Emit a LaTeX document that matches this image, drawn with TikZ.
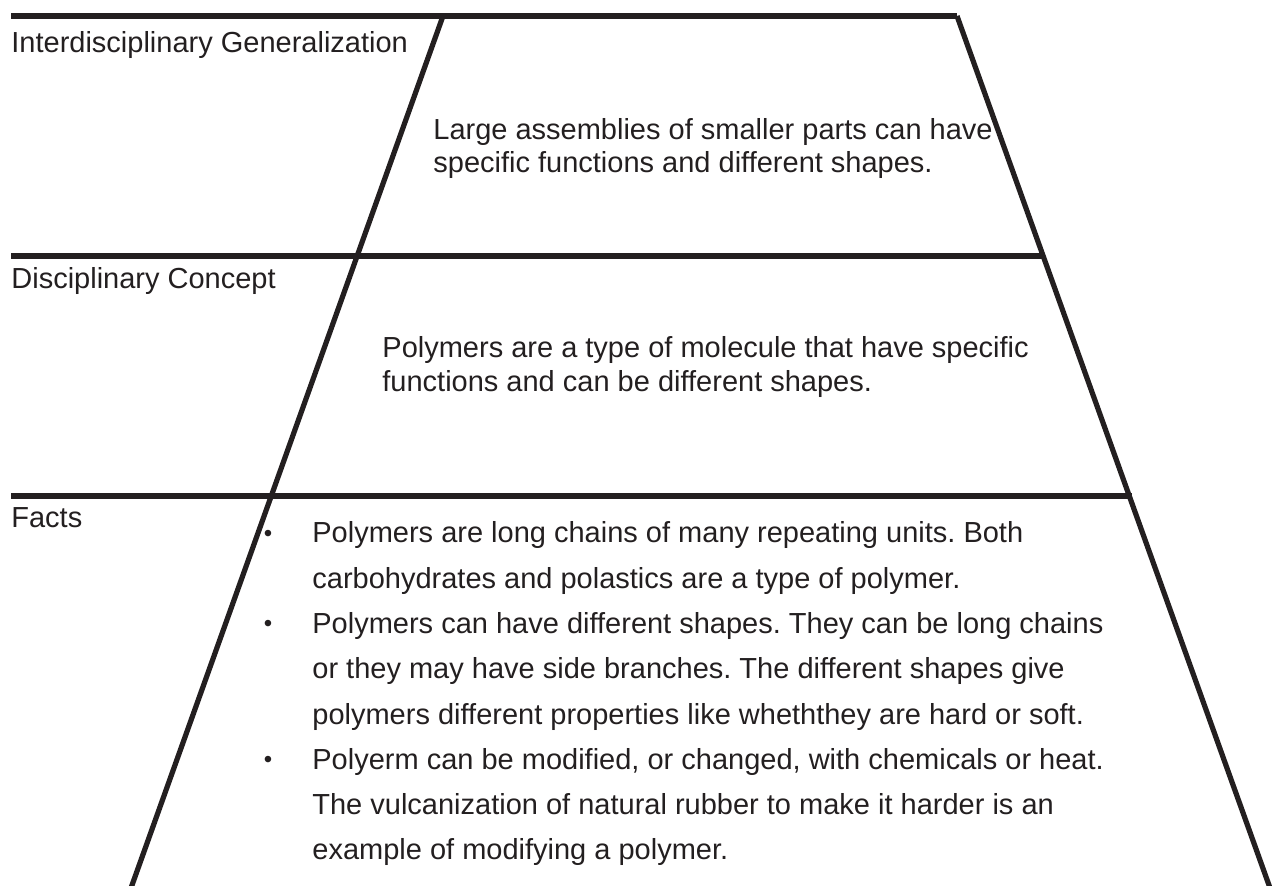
\documentclass[tikz,border=0pt]{standalone}
\usepackage{fontspec}
\setmainfont{Liberation Sans}
\definecolor{ink}{HTML}{231F20}
\frenchspacing
\begin{document}
\begin{tikzpicture}[x=0.5pt,y=-0.5pt,
  rule/.style={line width=2.6pt, draw=ink},
  lbl/.style={anchor=base west, inner sep=0pt, text=ink, font=\fontsize{14.5}{17}\selectfont},
  bul/.style={anchor=base, inner sep=0pt, text=ink, font=\fontsize{12}{14}\selectfont},
]
\useasboundingbox (0,0) rectangle (1272,886);
% frame coordinates
\coordinate (TL) at (11,16);
\coordinate (TR) at (957,16);
\coordinate (LT) at (443,16);
\coordinate (LB) at (131,888);
\coordinate (RB) at (1270,888);
\coordinate (ML) at (11,256);
\coordinate (MR) at (1044,256);
\coordinate (BL) at (11,496);
\coordinate (BR) at (1132,496);
% rules
\draw[rule] (TL) -- (TR);
\draw[rule] (ML) -- (MR);
\draw[rule] (BL) -- (BR);
\draw[rule] (LT) -- (LB);
\draw[rule] (TR) -- (RB);
% level labels
\node[lbl] (lab1) at (11,53) {Interdisciplinary Generalization};
\node[lbl] (lab2) at (11,289) {Disciplinary Concept};
\node[lbl] (lab3) at (11,527) {Facts};
% top level
\node[lbl] (g1) at (433,140) {Large assemblies of smaller parts can have};
\node[lbl] (g2) at (433,173) {specific functions and different shapes.};
% middle level
\node[lbl] (c1) at (382,358) {Polymers are a type of molecule that have specific};
\node[lbl] (c2) at (382,392) {functions and can be different shapes.};
% facts
\node[bul] (b1) at (268,543) {\raisebox{0.6pt}{•}};
\node[bul] (b2) at (268,633) {\raisebox{0.6pt}{•}};
\node[bul] (b3) at (268,769) {\raisebox{0.6pt}{•}};
\node[lbl] (f1) at (312,543) {Polymers are long chains of many repeating units. Both};
\node[lbl] (f2) at (312,588) {carbohydrates and polastics are a type of polymer.};
\node[lbl] (f3) at (312,633) {Polymers can have different shapes. They can be long chains};
\node[lbl] (f4) at (312,678) {or they may have side branches. The different shapes give};
\node[lbl] (f5) at (312,724) {polymers different properties like wheththey are hard or soft.};
\node[lbl] (f6) at (312,769) {Polyerm can be modified, or changed, with chemicals or heat.};
\node[lbl] (f7) at (312,814) {The vulcanization of natural rubber to make it harder is an};
\node[lbl] (f8) at (312,859) {example of modifying a polymer.};
\end{tikzpicture}
\end{document}
